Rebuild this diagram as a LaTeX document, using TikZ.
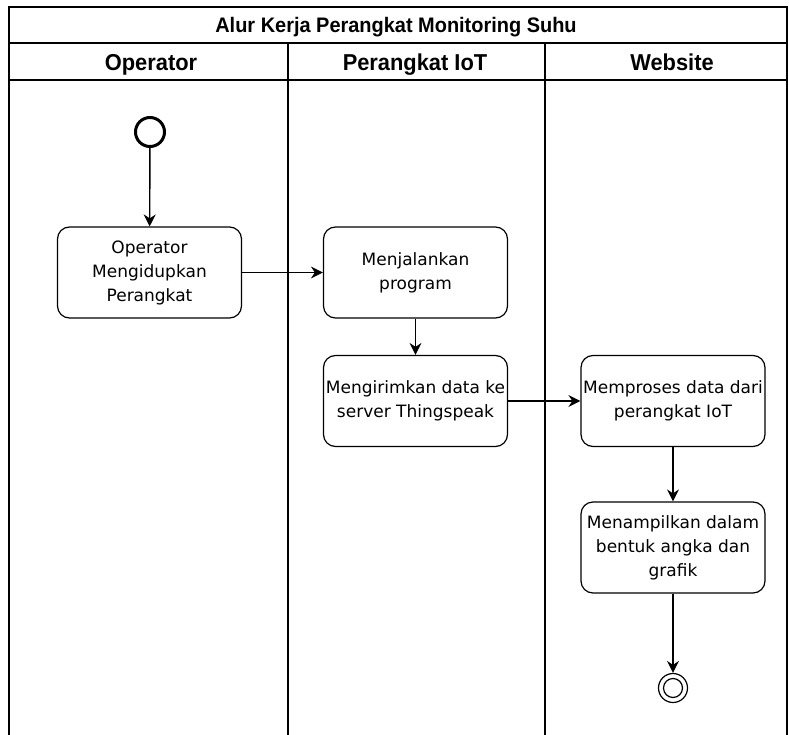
\documentclass[tikz,border=0pt]{standalone}
\usepackage{fontspec}
\setmainfont{DejaVu Sans}
\newfontfamily\headfont[FakeStretch=0.95]{Liberation Sans}
\usetikzlibrary{arrows.meta}
\begin{document}
\begin{tikzpicture}[x=1pt,y=-1pt,
  lane/.style={line width=1.3pt},
  act/.style={draw,line width=1.2pt,rounded corners=12pt,minimum width=184pt,minimum height=91pt,align=center,font=\fontsize{17}{24}\selectfont,inner sep=0pt},
  flow/.style={line width=1.4pt,-{Stealth[length=12pt,width=12pt,inset=4pt]}},
  head/.style={anchor=base,inner sep=0pt,font=\headfont\bfseries\fontsize{23}{26}\selectfont}]
\useasboundingbox (0,0) rectangle (789,735);
% swimlane frame
\draw[lane] (9,735) -- (9,7) -- (787,7) -- (787,735);
\draw[lane] (9,43) -- (787,43);
\draw[lane] (9,80) -- (787,80);
\draw[lane] (288,43) -- (288,735);
\draw[lane] (545,43) -- (545,735);
\node[head,font=\headfont\bfseries\fontsize{21}{24}\selectfont] (title) at (396,33) {Alur Kerja Perangkat Monitoring Suhu};
\node[head] (h1) at (151,70.5) {Operator};
\node[head] (h2) at (415,70.5) {Perangkat IoT};
\node[head] (h3) at (672,70.5) {Website};
% nodes
\node[circle,draw,line width=3pt,minimum size=29pt,inner sep=0pt] (start) at (150,132) {};
\node[act] (a1) at (149.5,272.5) {Operator\\Mengidupkan\\Perangkat};
\node[act] (a2) at (415.5,272.5) {Menjalankan\\program};
\node[act] (a3) at (415.5,401) {Mengirimkan data ke\\server Thingspeak};
\node[act] (a4) at (673,401) {Memproses data dari\\perangkat IoT};
\node[act] (a5) at (673,547.5) {Menampilkan dalam\\bentuk angka dan\\grafik};
\node[circle,draw,line width=1.2pt,minimum size=29pt,inner sep=0pt] (end) at (673,688) {};
\node[circle,draw,line width=1.2pt,minimum size=19pt,inner sep=0pt] (endin) at (673,688) {};
% flows
\draw[flow] (start) -- (a1);
\draw[flow] (a1) -- (a2);
\draw[flow] (a2) -- (a3);
\draw[flow] (a3) -- (a4);
\draw[flow] (a4) -- (a5);
\draw[flow] (a5) -- (end);
\end{tikzpicture}
\end{document}
